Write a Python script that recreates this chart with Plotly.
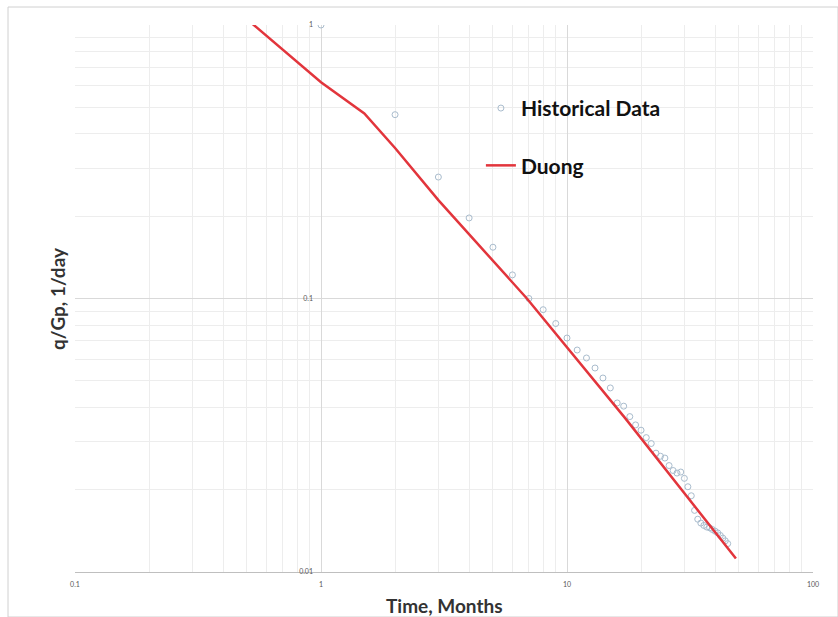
import plotly.graph_objects as go

# Historical data (monthly)
hist_t = list(range(1, 46))
hist_q = [1.0, 0.47, 0.278, 0.197, 0.154, 0.122, 0.100, 0.091, 0.081, 0.0717,
          0.0648, 0.0606, 0.0557, 0.0512, 0.0471, 0.0415, 0.0404, 0.0370, 0.0345, 0.0330,
          0.0310, 0.0295, 0.0272, 0.0265, 0.0261, 0.0245, 0.0235, 0.0230, 0.0232, 0.0220,
          0.0205, 0.0190, 0.0168, 0.0156, 0.0151, 0.0148, 0.0146, 0.0145, 0.0143, 0.0141,
          0.0139, 0.0136, 0.0133, 0.0130, 0.0127]

# Duong fit
duong_t = [0.5, 1.0, 1.5, 2.0, 3.0, 6.87, 17.2, 48.6]
duong_q = [1.05, 0.618, 0.475, 0.355, 0.229, 0.100, 0.0366, 0.0112]

x_ticks = [0.1, 1, 10, 100]
x_labels = ["0.1", "1", "10", "100"]
y_ticks = [0.01, 0.1, 1]
y_labels = ["0.01", "0.1", "1"]

fig = go.Figure()
fig.add_trace(go.Scatter(
    x=hist_t, y=hist_q, mode="markers", name="Historical Data",
    legendgroup="a",
    marker=dict(symbol="circle-open", size=6, color="#a9bccd", line=dict(width=1)),
))
fig.add_trace(go.Scatter(
    x=duong_t, y=duong_q, mode="lines", name="Duong",
    legendgroup="b",
    line=dict(color="#e2353c", width=2.5),
))

grid_major = "#d9d9d9"
grid_minor = "#ededed"

fig.update_layout(
    width=838, height=617,
    margin=dict(l=75, r=25, t=25, b=45),
    paper_bgcolor="white", plot_bgcolor="white",
    showlegend=True,
    legend=dict(x=0.55, y=0.885, xanchor="left", yanchor="top",
                font=dict(family="Lato", size=21, color="#111111", weight="bold"),
                tracegroupgap=27, bgcolor="rgba(0,0,0,0)"),
    xaxis=dict(type="log", range=[-1, 2], tickvals=x_ticks, ticktext=x_labels,
               showgrid=True, gridcolor=grid_major, gridwidth=1,
               minor=dict(dtick="D1", showgrid=True, gridcolor=grid_minor, ticks=""),
               showline=True, linecolor="#bfbfbf", linewidth=1,
               ticks="", zeroline=False, ticklabelstandoff=6,
               tickfont=dict(family="Lato", size=7, color="#595959")),
    yaxis=dict(type="log", range=[-2, 0], tickvals=y_ticks, ticktext=y_labels,
               anchor="free", position=1/3,
               showgrid=True, gridcolor=grid_major, gridwidth=1,
               minor=dict(dtick="D1", showgrid=True, gridcolor=grid_minor, ticks=""),
               showline=False, ticks="", zeroline=False, ticklabelstandoff=8,
               tickfont=dict(family="Lato", size=7, color="#595959")),
    annotations=[
        dict(text="<b>Time, Months</b>", xref="paper", yref="paper",
             x=0.5, y=(572 - 605) / 547, xanchor="center", yanchor="middle",
             showarrow=False, font=dict(family="Lato", size=19, color="#333333")),
        dict(text="<b>q/Gp, 1/day</b>", xref="paper", yref="paper",
             x=(57 - 75) / 738, y=(572 - 299) / 547, xanchor="center", yanchor="middle",
             textangle=-90, showarrow=False,
             font=dict(family="Lato", size=19, color="#333333")),
    ],
    shapes=[
        dict(type="rect", xref="paper", yref="paper",
             x0=(8 - 75) / 738, x1=(838 - 75) / 738,
             y0=(572 - 617) / 547, y1=(572 - 7) / 547,
             line=dict(color="#d0d0d0", width=1), fillcolor="rgba(0,0,0,0)",
             layer="below"),
    ],
)

fig.write_html("out.html")
